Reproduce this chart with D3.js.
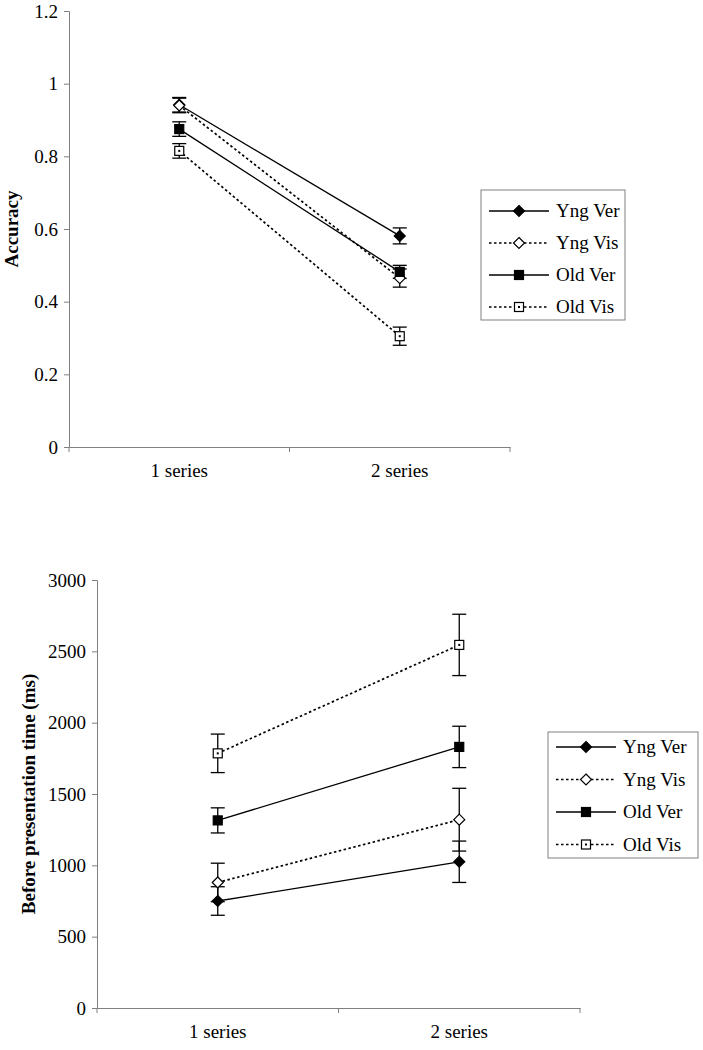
<!DOCTYPE html>
<html><head><meta charset="utf-8">
<script src="https://cdn.jsdelivr.net/npm/d3@7"></script>
<style>body{margin:0;background:#fff}svg{display:block}svg text{font-family:"Liberation Serif","Times New Roman","DejaVu Serif",serif !important;fill:#000}</style>
</head><body>
<svg id="c" width="703" height="1050"></svg>
<script>
const categories = ["1 series", "2 series"];
const seriesNames = ["Yng Ver", "Yng Vis", "Old Ver", "Old Vis"];
// Top chart: accuracy
const accYngVer = [0.942, 0.581];
const accYngVis = [0.940, 0.465];
const accOldVer = [0.875, 0.482];
const accOldVis = [0.815, 0.305];
const accErrYngVer = [0.02, 0.022];
const accErrYngVis = [0.02, 0.025];
const accErrOldVer = [0.02, 0.018];
const accErrOldVis = [0.02, 0.025];
const accTicks = [0, 0.2, 0.4, 0.6, 0.8, 1, 1.2];
// Bottom chart: before presentation time (ms)
const rtYngVer = [750, 1025];
const rtYngVis = [880, 1320];
const rtOldVer = [1315, 1830];
const rtOldVis = [1785, 2545];
const rtErrYngVer = [100, 145];
const rtErrYngVis = [135, 220];
const rtErrOldVer = [88, 145];
const rtErrOldVis = [135, 215];
const rtTicks = [0, 500, 1000, 1500, 2000, 2500, 3000];

const styles = {
  "Yng Ver": {dash: null, shape: "diamond", fill: "#000"},
  "Yng Vis": {dash: "2.5,2.5", shape: "diamond", fill: "#fff"},
  "Old Ver": {dash: null, shape: "square", fill: "#000"},
  "Old Vis": {dash: "2.5,2.5", shape: "square", fill: "#fff", dot: true}
};

const svg = d3.select("#c");
const axisColor = "#808080";
const FONT = '"Liberation Serif","Times New Roman",serif';

function marker(g, shape, fill, x, y, dot) {
  if (shape === "diamond") {
    g.append("path").attr("d", `M${x},${y-5.5}L${x+5.5},${y}L${x},${y+5.5}L${x-5.5},${y}Z`)
      .attr("fill", fill).attr("stroke", "#000").attr("stroke-width", 1.2);
  } else {
    g.append("rect").attr("x", x-4.5).attr("y", y-4.5).attr("width", 9).attr("height", 9)
      .attr("fill", fill).attr("stroke", "#000").attr("stroke-width", 1.2);
    if (dot) g.append("rect").attr("x", x-1).attr("y", y-1).attr("width", 2).attr("height", 2).attr("fill", "#000");
  }
}

function chart(cfg) {
  const {x0, x1, y0, y1, domainMax, ticks, label, labelX, data, errs, legend, tickFmt} = cfg;
  const g = svg.append("g");
  const y = d3.scaleLinear().domain([0, domainMax]).range([y0, y1]);
  const xb = d3.scaleBand().domain(categories).range([x0, x1]);
  const xc = d => xb(d) + xb.bandwidth() / 2;

  const ya = g.append("g").attr("transform", `translate(${x0},0)`)
    .call(d3.axisLeft(y).tickValues(ticks).tickSize(5).tickPadding(6).tickFormat(tickFmt));
  ya.attr("font-family", FONT).attr("font-size", 19);
  ya.select(".domain").attr("stroke", axisColor);
  ya.selectAll(".tick line").attr("stroke", axisColor);
  const xa = g.append("g").attr("transform", `translate(0,${y0})`)
    .call(d3.axisBottom(xb).tickSize(0).tickPadding(17));
  xa.attr("font-family", FONT).attr("font-size", 19);
  xa.select(".domain").attr("stroke", axisColor);
  const bounds = [x0, xb(categories[1]), x1];
  g.selectAll(".bt").data(bounds).enter().append("line")
    .attr("x1", d => d).attr("x2", d => d).attr("y1", y0).attr("y2", y0 + 5).attr("stroke", axisColor);

  g.append("text").attr("transform", `translate(${labelX},${(y0 + y1) / 2}) rotate(-90)`)
    .attr("text-anchor", "middle").attr("font-family", FONT).attr("font-size", 19).attr("font-weight", "bold").text(label);

  seriesNames.forEach((name, i) => {
    const st = styles[name];
    const line = d3.line().x((d, j) => xc(categories[j])).y(d => y(d));
    g.append("path").datum(data[i]).attr("d", line).attr("fill", "none").attr("stroke", "#000")
      .attr("stroke-width", st.dash ? 1.7 : 1.3).attr("stroke-dasharray", st.dash);
  });
  seriesNames.forEach((name, i) => {
    data[i].forEach((v, j) => {
      const cx = xc(categories[j]);
      const e = errs[i][j];
      g.append("line").attr("x1", cx).attr("x2", cx).attr("y1", y(v + e)).attr("y2", y(v - e)).attr("stroke", "#000").attr("stroke-width", 1.3);
      [v + e, v - e].forEach(w => g.append("line").attr("x1", cx - 7).attr("x2", cx + 7).attr("y1", y(w)).attr("y2", y(w)).attr("stroke", "#000").attr("stroke-width", 1.3));
    });
  });
  seriesNames.forEach((name, i) => {
    const st = styles[name];
    data[i].forEach((v, j) => marker(g, st.shape, st.fill, xc(categories[j]), y(v), st.dot));
  });

  const L = legend;
  g.append("rect").attr("x", L.x).attr("y", L.y).attr("width", L.w).attr("height", L.h)
    .attr("fill", "#fff").attr("stroke", axisColor);
  seriesNames.forEach((name, i) => {
    const st = styles[name];
    const ly = L.y + L.first + i * L.step;
    g.append("line").attr("x1", L.x + 8).attr("x2", L.x + 68).attr("y1", ly).attr("y2", ly)
      .attr("stroke", "#000").attr("stroke-width", st.dash ? 1.7 : 1.3).attr("stroke-dasharray", st.dash);
    marker(g, st.shape, st.fill, L.x + 38, ly, st.dot);
    g.append("text").attr("x", L.x + 75).attr("y", ly + 6).attr("font-family", FONT).attr("font-size", 19).text(name);
  });
}

chart({x0: 69, x1: 510, y0: 447, y1: 11, domainMax: 1.2, ticks: accTicks, label: "Accuracy", labelX: 18,
  data: [accYngVer, accYngVis, accOldVer, accOldVis],
  errs: [accErrYngVer, accErrYngVis, accErrOldVer, accErrOldVis],
  legend: {x: 481, y: 190, w: 144, h: 130, first: 21, step: 32},
  tickFmt: d => d3.format("")(d)});

chart({x0: 97, x1: 580, y0: 1008, y1: 580, domainMax: 3000, ticks: rtTicks, label: "Before presentation time (ms)", labelX: 35,
  data: [rtYngVer, rtYngVis, rtOldVer, rtOldVis],
  errs: [rtErrYngVer, rtErrYngVis, rtErrOldVer, rtErrOldVis],
  legend: {x: 548, y: 732, w: 150, h: 126, first: 15, step: 32.5},
  tickFmt: d => String(d)});
</script>
</body></html>
